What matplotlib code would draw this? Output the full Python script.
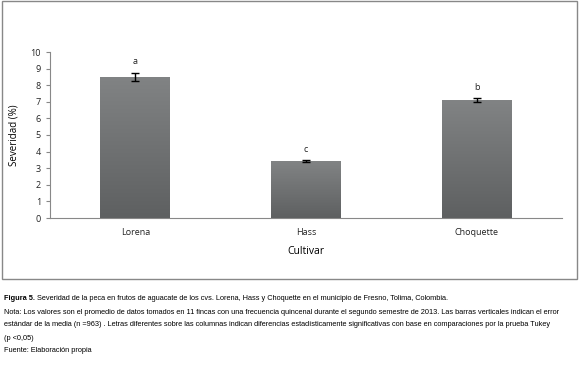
import numpy as np
import matplotlib.pyplot as plt
from matplotlib.patches import Rectangle
from matplotlib.colors import LinearSegmentedColormap

# Datos
cultivares = ['Lorena', 'Hass', 'Choquette']
severidad = [8.5, 3.43, 7.08]
error_std = [0.25, 0.05, 0.12]
letras = ['a', 'c', 'b']

fig = plt.figure(figsize=(5.79, 3.67), dpi=100)
ax = fig.add_axes([50/579, 149/367, 512/579, 166/367])

x = np.arange(len(cultivares))
bars = ax.bar(x, severidad, width=0.41, color='#6b6c6d', zorder=2)

# degradado gris en cada barra
cmap = LinearSegmentedColormap.from_list('g', ['#5e6061', '#818384'])
grad = np.linspace(0, 1, 100).reshape(-1, 1)
for b in bars:
    x0, y0 = b.get_x(), b.get_y()
    w, h = b.get_width(), b.get_height()
    im = ax.imshow(grad, extent=[x0, x0 + w, y0, y0 + h], aspect='auto',
                   cmap=cmap, origin='lower', zorder=3)
    im.set_clip_path(b)

ax.errorbar(x, severidad, yerr=error_std, fmt='none', ecolor='black',
            elinewidth=1, capsize=3, capthick=1, zorder=4)
for xi, v, e, l in zip(x, severidad, error_std, letras):
    ax.text(xi, v + e + 0.4, l, ha='center', va='bottom', fontsize=6.5,
            family='Open Sans', color='#222222')

ax.set_xlim(-0.5, 2.5)
ax.set_ylim(0, 10)
ax.set_yticks(range(0, 11))
ax.set_xticks(x)
ax.set_xticklabels(cultivares, fontsize=6.5, family='Open Sans', color='#222222')
ax.tick_params(axis='y', labelsize=6.5, length=3, color='#888888', labelcolor='#222222')
ax.tick_params(axis='x', length=0, pad=7)
for lab in ax.get_yticklabels():
    lab.set_family('Open Sans')
for s in ['top', 'right']:
    ax.spines[s].set_visible(False)
for s in ['left', 'bottom']:
    ax.spines[s].set_color('#888888')
    ax.spines[s].set_linewidth(0.8)

ax.set_ylabel('Severidad (%)', fontsize=7, family='Open Sans', labelpad=8)
ax.set_xlabel('Cultivar', fontsize=7.5, family='Open Sans', labelpad=7)

# marco exterior
fig.patches.append(Rectangle((2/579, 1 - 279/367), 575/579, 278/367,
                             transform=fig.transFigure, fill=False,
                             edgecolor='#888888', linewidth=1))

# pie de figura
fam = ['Liberation Sans Narrow', 'Liberation Sans', 'DejaVu Sans']
fs = 5.6
titulo = 'Severidad de la peca en frutos de aguacate de los cvs. Lorena, Hass y Choquette en el municipio de Fresno, Tolima, Colombia.'
lineas = [
    'Nota: Los valores son el promedio de datos tomados en 11 fincas con una frecuencia quincenal durante el segundo semestre de 2013. Las barras verticales indican el error',
    'estándar de la media (n =963) . Letras diferentes sobre las columnas indican diferencias estadísticamente significativas con base en comparaciones por la prueba Tukey',
    '(p <0,05)',
    'Fuente: Elaboración propia',
]

# ajustar el tamaño para que la línea más larga quepa en el ancho
r = fig.canvas.get_renderer()
anchos = []
for tx in lineas[:2]:
    t = fig.text(0, 0, tx, fontsize=fs, family=fam)
    anchos.append(t.get_window_extent(r).width)
    t.remove()
fs = fs * 566 / max(anchos)

t1 = fig.text(4/579, 1 - 298/367, 'Figura 5.', fontsize=fs, family=fam,
              weight='bold', va='center')
w1 = t1.get_window_extent(r).width
fig.text((4 + w1 + 2)/579, 1 - 298/367, titulo, fontsize=fs, family=fam, va='center')
for i, tx in enumerate(lineas):
    fig.text(4/579, 1 - (312 + i * 13) / 367, tx, fontsize=fs, family=fam, va='center')

fig.savefig('out.png', dpi=100)
